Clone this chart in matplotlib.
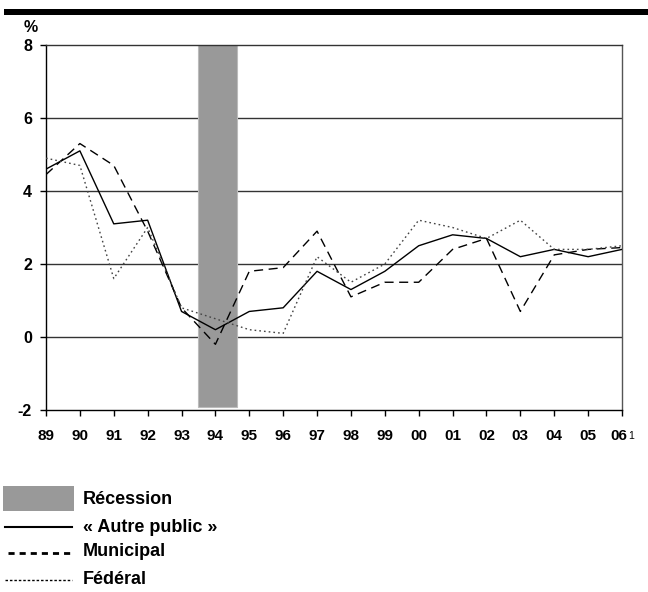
import numpy as np
import matplotlib
matplotlib.use("Agg")
import matplotlib.pyplot as plt
from matplotlib.patches import Rectangle
from matplotlib.lines import Line2D
from matplotlib.transforms import ScaledTranslation

plt.rcParams["font.family"] = ["Liberation Sans", "DejaVu Sans"]
plt.rcParams["font.weight"] = "bold"

years = ["89", "90", "91", "92", "93", "94", "95", "96", "97",
         "98", "99", "00", "01", "02", "03", "04", "05", "06"]
autre_public = [4.6, 5.1, 3.1, 3.2, 0.7, 0.2, 0.7, 0.8, 1.8,
                1.3, 1.8, 2.5, 2.8, 2.7, 2.2, 2.4, 2.2, 2.4]
municipal = [4.45, 5.3, 4.7, 2.9, 0.8, -0.2, 1.8, 1.9, 2.9,
             1.1, 1.5, 1.5, 2.4, 2.7, 0.7, 2.25, 2.4, 2.45]
federal = [4.9, 4.7, 1.6, 3.0, 0.8, 0.5, 0.2, 0.1, 2.2,
           1.5, 2.0, 3.2, 3.0, 2.7, 3.2, 2.4, 2.4, 2.5]
recession = (4.5, 5.65)  # index positions (93.5 .. 94.65)
y_ticks = [-2, 0, 2, 4, 6, 8]

W, H = 648, 592
fig = plt.figure(figsize=(W / 100, H / 100), dpi=100)
ax = fig.add_axes([46 / W, 1 - 410 / H, (622 - 46) / W, (410 - 45) / H])


def fx(px):
    return px / W


def fy(py):
    return 1 - py / H


x = np.arange(len(years))

ax.axvspan(recession[0], recession[1], ymin=0.007, ymax=1, color="#999999",
           ec="#bbbbbb", lw=0.8, zorder=1)
for v in y_ticks[1:-1]:
    ax.axhline(v, color="#333333", lw=1.0, zorder=0.5)

ax.plot(x, autre_public, color="black", lw=1.0, zorder=3)
ax.plot(x, municipal, color="black", lw=1.0, dashes=(6.5, 4), zorder=3)
ax.plot(x, federal, color="#444444", lw=1.0, dashes=(1.2, 2.2), zorder=3)

ax.set_xlim(0, len(years) - 1)
ax.set_ylim(-2, 8)
ax.set_xticks(x)
ax.set_xticklabels(years, fontsize=11, fontweight="bold")
ax.set_yticks(y_ticks)
ax.set_yticklabels([str(v) for v in y_ticks], fontsize=11.5, fontweight="bold")
ax.tick_params(axis="x", length=4, width=1, pad=10)
ax.tick_params(axis="y", length=4, width=1, pad=6)
for s in ax.spines.values():
    s.set_linewidth(1.0)
ax.spines["right"].set_color("#555555")
ax.spines["top"].set_color("#333333")

# last label is nudged left to leave room for its footnote mark
last = ax.get_xticklabels()[-1]
last.set_transform(last.get_transform() + ScaledTranslation(-0.035, 0, fig.dpi_scale_trans))
fig.text(fx(628.5), fy(431), "1", fontsize=7.5, fontweight="normal",
         ha="left", va="top")

fig.text(31 / W, 1 - 28 / H, "%", fontsize=11.5, fontweight="bold",
         ha="center", va="center")

# thick rule at the top
fig.add_artist(Rectangle((4 / W, 1 - 15 / H), (W - 4) / W, 6 / H,
                         transform=fig.transFigure, color="black", lw=0))

# legend
fig.add_artist(Rectangle((fx(3), fy(511)), fx(71), 25 / H,
                         transform=fig.transFigure, color="#999999", lw=0))
fig.add_artist(Line2D([fx(5), fx(72)], [fy(527), fy(527)],
                      transform=fig.transFigure, color="black", lw=1.5))
fig.add_artist(Line2D([fx(8), fx(72)], [fy(553), fy(553)],
                      transform=fig.transFigure, color="black", lw=2,
                      dashes=(2.2, 1.8)))
fig.add_artist(Line2D([fx(5), fx(72)], [fy(580), fy(580)],
                      transform=fig.transFigure, color="black", lw=1,
                      dashes=(1.8, 1.4)))
labels = ["Récession", "« Autre public »", "Municipal", "Fédéral"]
for lab, py in zip(labels, [500, 527, 552, 580]):
    fig.text(fx(83), fy(py), lab, fontsize=13, fontweight="bold",
             ha="left", va="center")

fig.savefig("out.png", dpi=100)
